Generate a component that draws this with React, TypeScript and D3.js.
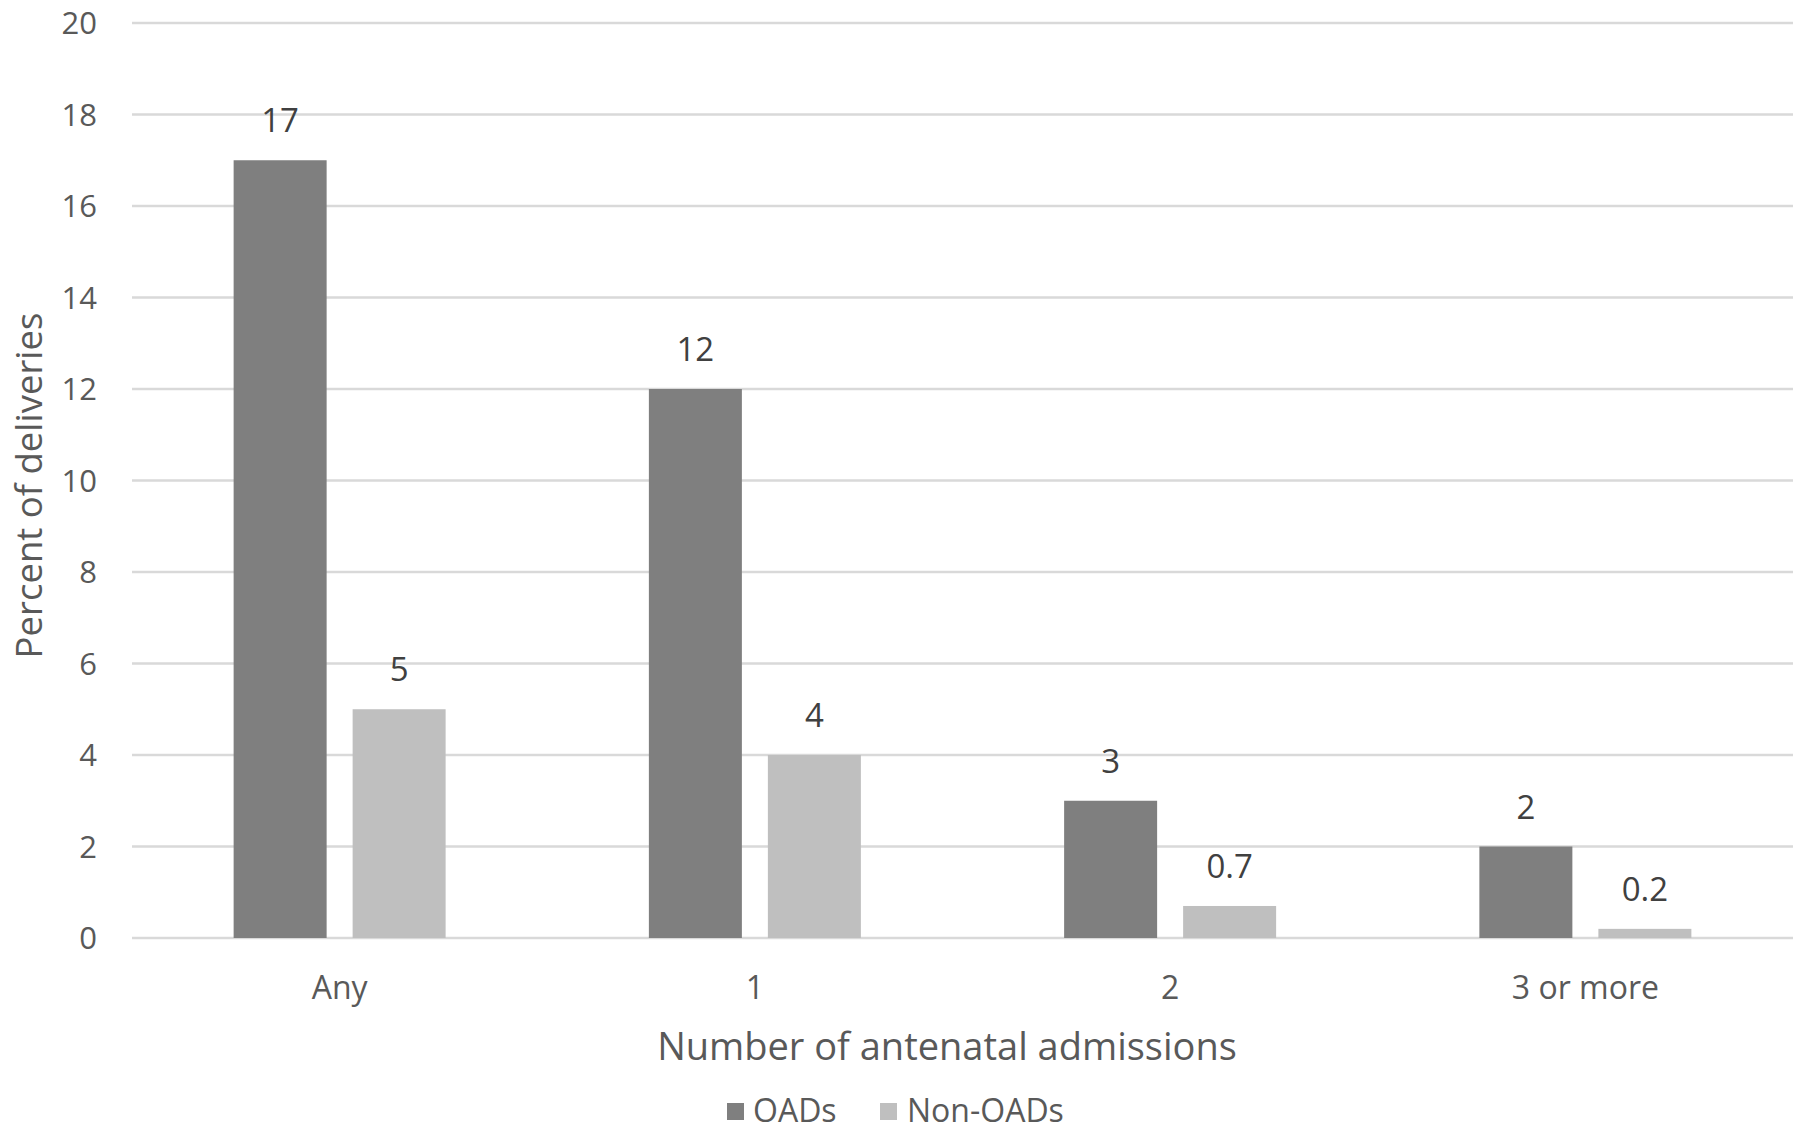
import React from "react";
import * as d3 from "d3";

const categories = ["Any", "1", "2", "3 or more"];
const seriesNames = ["OADs", "Non-OADs"];
const oadsValues = [17, 12, 3, 2];
const nonOadsValues = [5, 4, 0.7, 0.2];
const labelText = [["17", "12", "3", "2"], ["5", "4", "0.7", "0.2"]];
const yTicks = [0, 2, 4, 6, 8, 10, 12, 14, 16, 18, 20];
const colors = ["#7f7f7f", "#bfbfbf"];

const W = 1800;
const H = 1133;
const left = 132;
const right = 1793;
const top = 23;
const bottom = 938;
const font = "'Open Sans', 'DejaVu Sans', sans-serif";

export default function App() {
  const x = d3.scaleBand<string>().domain(categories).range([left, right]).paddingInner(0).paddingOuter(0);
  const y = d3.scaleLinear().domain([0, 20]).range([bottom, top]);
  const barW = 93;
  const gap = 26;
  const series = [oadsValues, nonOadsValues];

  return (
    <svg width={W} height={H} style={{ position: "absolute", left: 0, top: 0, background: "#fff" }}>
      <rect x={0} y={0} width={W} height={H} fill="#fff" />
      {yTicks.map((t) => (
        <g key={t}>
          <line x1={left} x2={right} y1={y(t)} y2={y(t)} stroke="#d9d9d9" strokeWidth={2.5} />
          <text x={97} y={y(t)} dy="0.36em" textAnchor="end" fontFamily={font} fontSize={31} fill="#595959">
            {t}
          </text>
        </g>
      ))}
      {categories.map((c, i) => {
        const cx = (x(c) as number) + x.bandwidth() / 2;
        return (
          <g key={c}>
            {series.map((vals, s) => {
              const bx = s === 0 ? cx - gap / 2 - barW : cx + gap / 2;
              const v = vals[i];
              return (
                <g key={s}>
                  <rect x={bx} y={y(v)} width={barW} height={bottom - y(v)} fill={colors[s]} />
                  <text
                    x={bx + barW / 2}
                    y={y(v) - 28}
                    textAnchor="middle"
                    fontFamily={font}
                    fontSize={33}
                    fill="#404040"
                  >
                    {labelText[s][i]}
                  </text>
                </g>
              );
            })}
            <text x={cx} y={999} textAnchor="middle" fontFamily={font} fontSize={32} fill="#595959">
              {c}
            </text>
          </g>
        );
      })}
      <text x={947} y={1060} textAnchor="middle" fontFamily={font} fontSize={38} fill="#595959">
        Number of antenatal admissions
      </text>
      <text
        transform={`translate(42, ${(top + bottom) / 2 + 5}) rotate(-90)`}
        textAnchor="middle"
        fontFamily={font}
        fontSize={36.5}
        fill="#595959"
      >
        Percent of deliveries
      </text>
      <g>
        <rect x={727} y={1103} width={17} height={17} fill={colors[0]} />
        <text x={753} y={1122} fontFamily={font} fontSize={32} fill="#595959">
          {seriesNames[0]}
        </text>
        <rect x={880} y={1103} width={17} height={17} fill={colors[1]} />
        <text x={907} y={1122} fontFamily={font} fontSize={32} fill="#595959">
          {seriesNames[1]}
        </text>
      </g>
    </svg>
  );
}
